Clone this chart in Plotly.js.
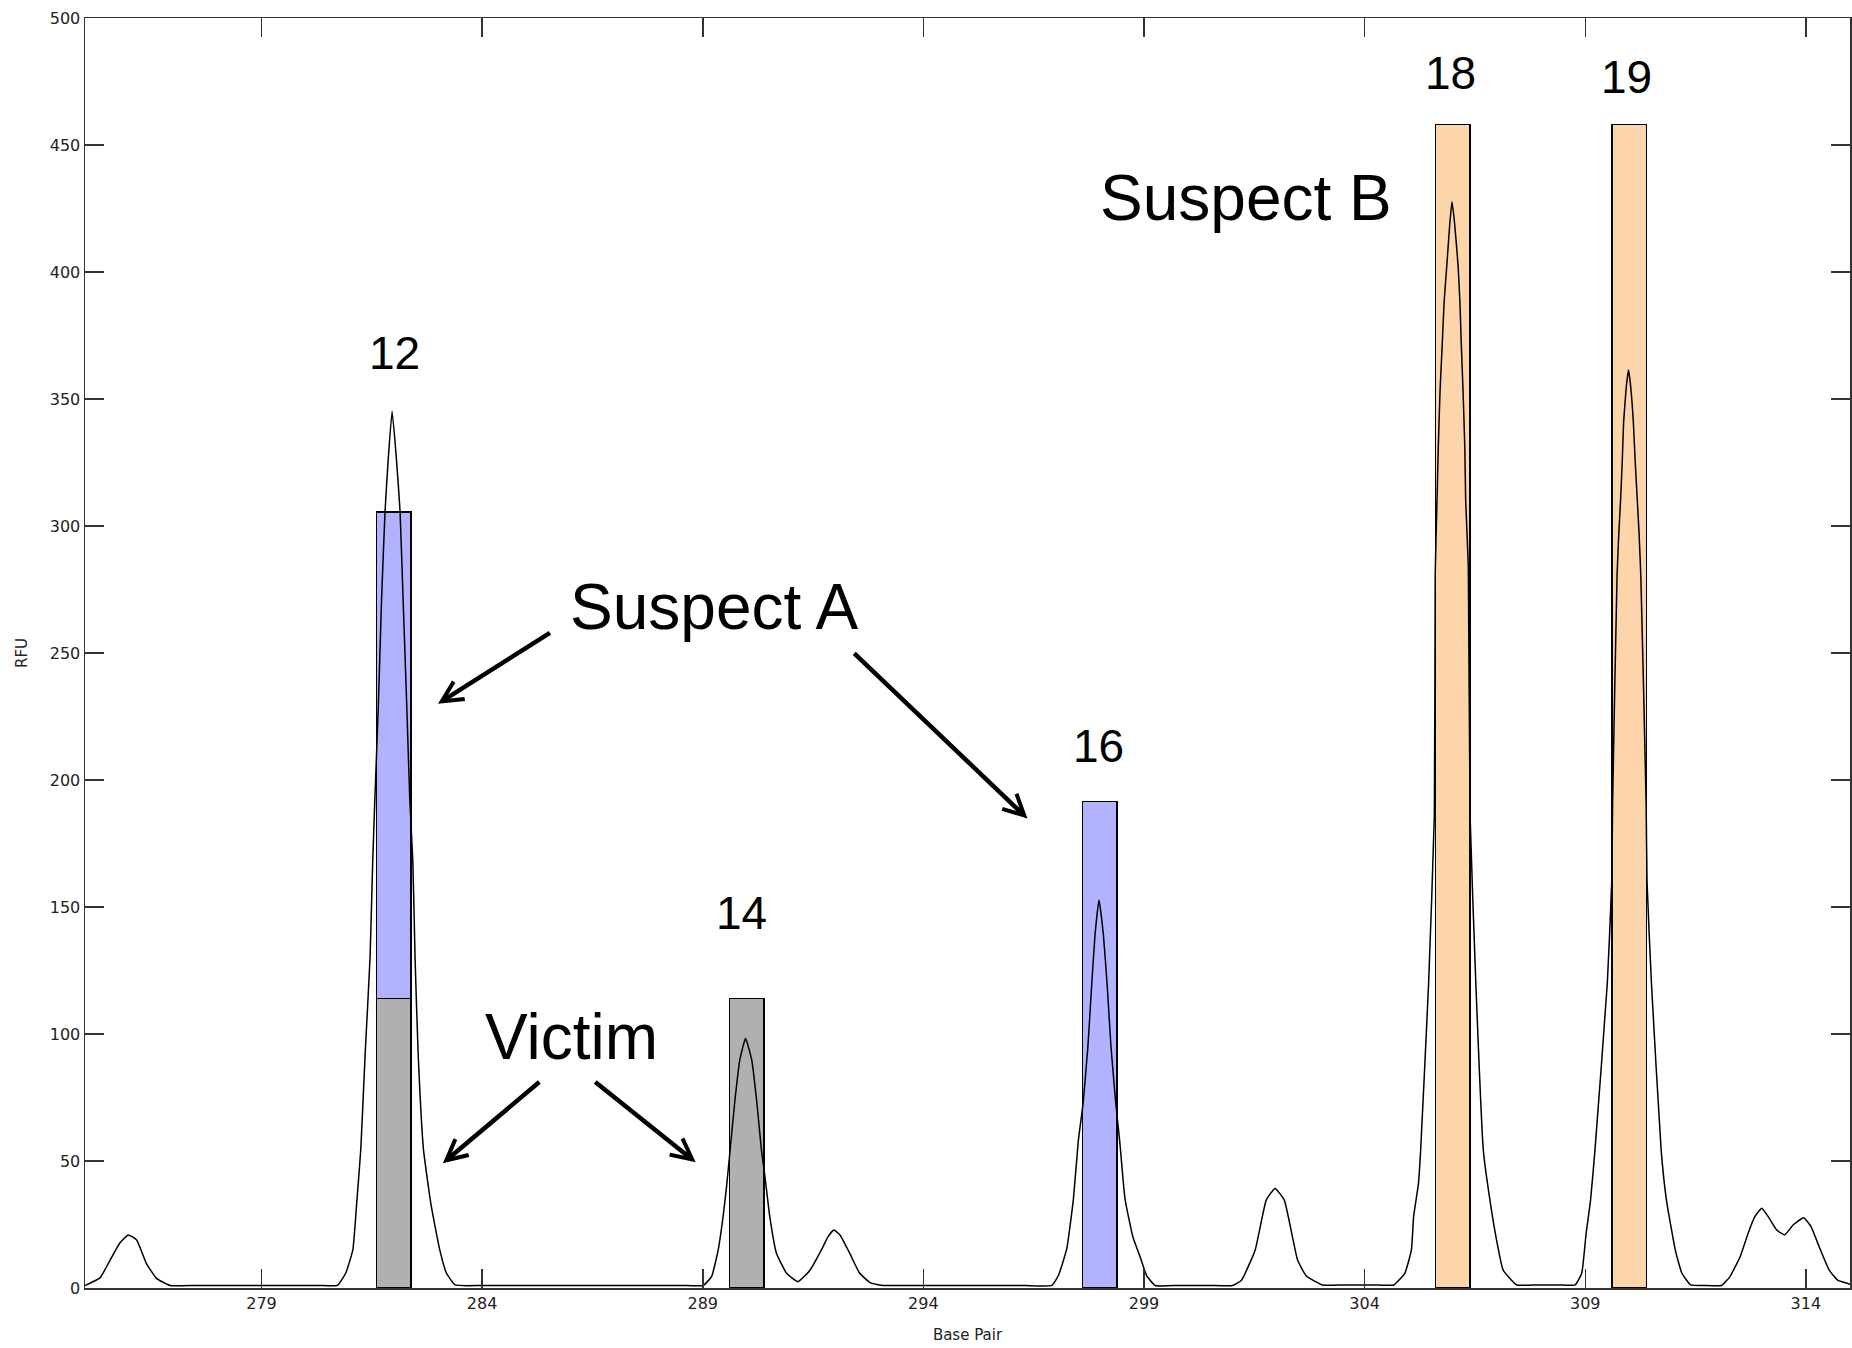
<!DOCTYPE html>
<html>
<head>
<meta charset="utf-8">
<script src="https://cdn.plot.ly/plotly-3.0.1.min.js"></script>
<style>html,body{margin:0;padding:0;background:#fff;}#chart{width:1852px;height:1348px;}</style>
</head>
<body>
<div id="chart"></div>
<script>
// Electropherogram trace (base pair vs RFU)
const bp = [275.00,275.34,275.57,275.79,275.98,276.17,276.39,276.62,276.93,277.5,278.5,279.5,280.3,280.72,280.91,281.07,281.16,281.25,281.35,281.46,281.52,281.57,281.65,281.72,281.80,281.87,281.96,282.06,282.14,282.21,282.29,282.36,282.43,282.48,282.55,282.67,282.84,283.04,283.19,283.39,284.0,285.5,287.0,288.5,289.01,289.20,289.35,289.46,289.54,289.62,289.73,289.84,289.97,290.11,290.22,290.33,290.41,290.52,290.67,290.90,291.16,291.43,291.69,291.84,291.97,292.11,292.33,292.55,292.80,293.10,293.8,295.0,296.3,296.91,297.06,297.25,297.40,297.51,297.62,297.73,297.81,297.89,297.98,298.08,298.17,298.25,298.36,298.45,298.57,298.75,298.91,299.06,299.25,299.8,300.5,301.01,301.21,301.52,301.77,301.97,302.18,302.48,302.68,303.04,303.5,304.2,304.66,304.91,305.06,305.11,305.22,305.27,305.45,305.58,305.60,305.64,305.67,305.71,305.76,305.80,305.86,305.93,305.98,306.04,306.12,306.16,306.19,306.23,306.27,306.29,306.35,306.39,306.52,306.69,306.84,306.99,307.14,307.45,307.9,308.4,308.77,308.92,309.02,309.12,309.22,309.50,309.60,309.62,309.72,309.76,309.80,309.84,309.87,309.93,309.98,310.03,310.09,310.13,310.18,310.22,310.26,310.38,310.40,310.50,310.72,310.84,311.04,311.19,311.39,311.7,312.09,312.28,312.51,312.69,312.84,313.00,313.15,313.34,313.52,313.71,313.95,314.12,314.30,314.53,314.72,314.95,315.00];
const rfu = [1,4,11,17.7,20.9,18.9,9.7,3.8,1,1,1,1,1,1,5.9,15,34,54.5,92.4,130,167.7,192.8,230.4,270.6,305.8,325.9,345.2,325.9,305.8,270.6,230.4,192.8,167.7,130,92.4,54.7,33,15,5.9,1.2,1,1,1,1,1,4.5,15,28,40,54.3,74,89.8,98.3,89.8,74,54.3,43.8,28,13.7,5.8,2.5,7,15,20.2,22.8,20.9,13.7,6,2,1,1,1,1,1,4.9,15.5,35,57.7,72.8,95.4,118,139,152.8,139,118,95.4,72.8,57.7,35,20,12.4,4.9,1,1,1,1,3.1,15,34.6,39.2,34.6,11,4.7,1.2,1.2,1.2,1.2,5.8,15,28,41.2,54.3,120,186,281.4,310,331.2,353.5,372,387.7,402,419,427.7,419,402,387.7,372,353.5,331.2,310,284,186,120,54.3,34.6,18.9,7,1.2,1.2,1.2,1.2,5.8,21.5,34.6,54.3,120,160,191,280,297,310,326,341,354.8,361.4,354.8,341,326,310,297,280,191,160,120,54.3,34.6,15,5.8,1.2,1,1,4.5,12.3,21.5,28,31.4,28,22.8,20.9,24.8,27.7,24.1,16.3,7,3.1,1.8,1.5];

// Allele bars
const victimBp = [282, 290];
const victimRfu = [114, 114];
const suspectABp = [282, 298];
const suspectARfu = [191.6, 191.6];
const suspectBBp = [306, 310];
const suspectBRfu = [458, 458];

// Allele labels
const alleleLabels = ['12', '14', '16', '18', '19'];

// Axis ticks
const xTicks = [279, 284, 289, 294, 299, 304, 309, 314];
const yTicks = [0, 50, 100, 150, 200, 250, 300, 350, 400, 450, 500];

const barW = 0.78;
const traces = [
  {type:'bar', x: victimBp, y: victimRfu, width: barW, marker:{color:'#b0b0b0', line:{color:'#000', width:1.5}}, hoverinfo:'skip'},
  {type:'bar', x: suspectABp, y: suspectARfu, width: barW, marker:{color:'#b2b2fe', line:{color:'#000', width:1.5}}, hoverinfo:'skip'},
  {type:'bar', x: suspectBBp, y: suspectBRfu, width: barW, marker:{color:'#fdd5aa', line:{color:'#000', width:1.5}}, hoverinfo:'skip'},
  {type:'scatter', mode:'lines', x: bp, y: rfu, line:{color:'#000', width:1.5, shape:'spline', smoothing:0.4}, hoverinfo:'skip'}
];

const bigFont = {family:'Liberation Sans, Arial, sans-serif', size:64, color:'#000'};
const numFont = {family:'Liberation Sans, Arial, sans-serif', size:46, color:'#000'};
const labelPos = [[282.01,368],[289.88,147.6],[297.96,213.4],[305.94,478.5],[309.93,476.6]];
const annotations = alleleLabels.map((t,i)=>({x:labelPos[i][0], y:labelPos[i][1], xref:'x', yref:'y', text:t, showarrow:false, font:numFont, xanchor:'center', yanchor:'middle'}));
annotations.push({x:301.32, y:429.1, xref:'x', yref:'y', text:'Suspect B', showarrow:false, font:bigFont, xanchor:'center', yanchor:'middle'});
annotations.push({x:289.27, y:268.1, xref:'x', yref:'y', text:'Suspect A', showarrow:false, font:bigFont, xanchor:'center', yanchor:'middle'});
annotations.push({x:286.03, y:98.8, xref:'x', yref:'y', text:'Victim', showarrow:false, font:bigFont, xanchor:'center', yanchor:'middle'});
const arrows = [
  [283.0,230,285.57,258.3],
  [296.36,184.8,292.40,250.4],
  [283.11,49.1,285.33,81.6],
  [288.84,49.5,286.53,81.6]
];
arrows.forEach(a=>annotations.push({x:a[0], y:a[1], ax:a[2], ay:a[3], xref:'x', yref:'y', axref:'x', ayref:'y', text:'', showarrow:true, arrowhead:5, arrowsize:0.9, arrowwidth:4.5, arrowcolor:'#000', standoff:0, startstandoff:0}));

const axisCommon = {
  showgrid:false, zeroline:false, showline:true, linecolor:'#333', linewidth:1.5,
  mirror:'ticks', ticks:'inside', ticklen:19, tickwidth:1.5, tickcolor:'#333',
  tickfont:{family:'DejaVu Sans, sans-serif', size:16, color:'#222'}
};

const layout = {
  width:1852, height:1348,
  margin:{l:85, r:2, t:18, b:60},
  paper_bgcolor:'#fff', plot_bgcolor:'#fff',
  showlegend:false, barmode:'stack',
  xaxis: Object.assign({}, axisCommon, {range:[275,315], tickvals:xTicks, ticktext:xTicks.map(String), title:{text:'Base Pair', font:{family:'DejaVu Sans, sans-serif', size:15, color:'#222'}, standoff:18}}),
  yaxis: Object.assign({}, axisCommon, {range:[0,500], tickvals:yTicks, ticktext:yTicks.map(String), title:{text:'RFU', font:{family:'DejaVu Sans, sans-serif', size:15, color:'#222'}, standoff:18}}),
  annotations: annotations
};

Plotly.newPlot('chart', traces, layout, {displayModeBar:false, staticPlot:true});
</script>
</body>
</html>
